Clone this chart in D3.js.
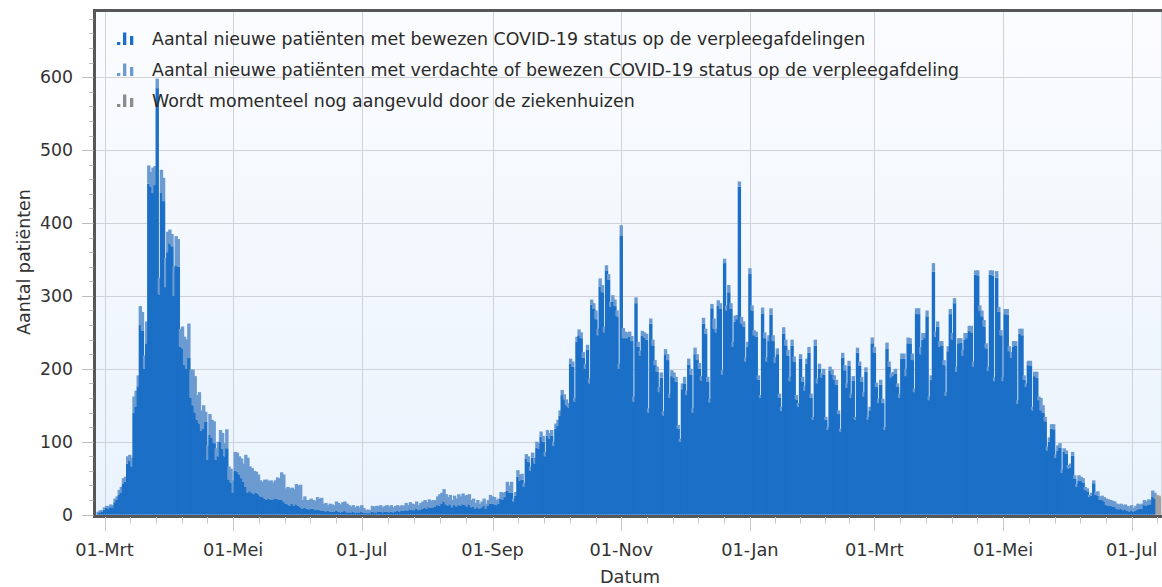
<!DOCTYPE html>
<html><head><meta charset="utf-8">
<script src="https://cdn.jsdelivr.net/npm/d3@7"></script>
<style>
body{margin:0;background:#fff;}
svg{display:block;font-family:"DejaVu Sans",sans-serif;}
</style>
</head><body>
<svg id="chart" width="1162" height="587"></svg>
<script>
// ---------- DATA ----------
const startDatum = "2020-02-27"; // first day of the series, one value per day

// Aantal nieuwe patiënten met bewezen COVID-19 status
const bewezen = [
2,3,4,7,9,8,10,10,17,20,
27,30,42,45,70,74,66,140,148,176,
260,252,200,235,454,450,441,452,585,302,
442,430,312,360,372,368,300,342,340,230,
228,205,200,215,160,150,140,130,125,115,
118,127,75,110,105,98,75,80,100,90,
80,91,48,44,30,60,59,55,50,45,
38,30,32,30,28,30,28,25,24,22,
20,22,20,20,22,22,20,20,18,15,
14,12,15,12,14,12,10,8,9,8,
7,8,8,6,7,6,5,5,4,5,
4,4,4,5,4,3,4,5,3,3,
3,4,2,3,3,4,2,2,2,2,
4,3,3,4,4,3,4,4,3,4,
3,4,5,4,5,5,6,5,7,6,
6,8,6,7,8,9,8,10,9,10,
11,13,12,15,18,14,12,14,10,13,
11,13,12,14,13,11,14,10,11,8,
10,8,9,12,8,12,15,15,14,13,
15,22,20,24,33,30,30,18,26,52,
46,48,38,77,72,60,78,70,92,90,
107,100,80,108,104,108,94,118,122,136,
164,158,150,147,207,203,155,237,246,242,
215,200,226,180,288,282,268,246,313,305,
250,335,322,285,292,286,272,200,383,242,
242,242,244,238,155,290,230,218,245,243,
240,140,262,232,205,196,168,188,136,220,
212,160,190,188,182,118,100,172,180,164,
206,192,140,220,212,200,184,262,248,182,
154,283,255,250,287,282,192,345,280,305,
282,230,265,268,450,262,258,210,230,330,
280,246,244,185,160,276,242,210,238,274,
238,208,220,160,142,248,232,218,183,232,
210,158,148,214,182,170,207,222,160,130,
232,180,200,188,192,130,116,197,192,185,
178,138,114,215,198,174,204,160,184,130,
222,204,182,162,196,130,143,235,222,175,
153,178,153,116,228,203,188,190,193,175,
160,214,214,190,235,234,212,168,276,275,
220,240,242,272,157,185,333,244,258,230,
232,205,163,224,275,240,290,196,235,236,
218,240,242,252,250,203,329,328,280,272,
258,228,197,329,328,183,325,278,246,183,
275,274,224,215,230,232,152,248,246,185,
175,205,204,143,190,188,157,143,140,128,
88,100,118,117,78,88,92,57,86,83,
63,64,81,49,38,47,46,44,34,32,
24,26,43,27,26,20,20,18,13,12,
12,11,11,8,7,8,6,7,5,4,
5,4,5,7,8,8,13,12,13,14,
25,22
];

// Aantal nieuwe patiënten met verdachte of bewezen COVID-19 status (totaal)
const verdachtOfBewezen = [
4,6,6,10,12,12,14,13,22,25,
34,38,50,52,80,82,78,162,170,191,
286,278,218,265,479,470,476,478,598,325,
473,462,352,388,391,385,340,382,378,255,
258,244,240,262,199,199,190,164,168,143,
150,141,95,138,130,128,91,100,116,112,
98,117,66,63,47,86,85,80,77,70,
82,78,66,64,60,59,55,47,45,48,
48,46,47,44,47,51,50,58,55,36,
38,36,37,35,42,40,41,20,25,20,
20,22,20,19,24,22,23,15,16,13,
15,14,13,18,16,14,17,18,15,13,
11,13,10,12,10,13,9,6,7,6,
12,11,12,12,13,10,12,13,11,13,
10,12,13,11,13,12,16,13,17,15,
14,18,13,16,18,20,17,21,19,20,
20,25,28,30,35,28,24,27,20,26,
22,28,25,29,26,27,28,20,22,16,
20,15,18,22,15,20,27,25,24,20,
22,31,30,31,45,40,45,22,31,61,
55,56,43,83,80,66,85,78,100,98,
114,108,86,116,112,116,100,125,130,143,
171,165,158,153,214,210,160,244,254,250,
223,207,233,187,295,290,280,255,324,315,
258,342,330,292,301,295,280,207,397,256,
251,250,251,245,162,298,237,225,252,250,
248,146,269,240,212,203,175,195,142,227,
220,166,198,195,189,123,104,180,189,170,
214,200,146,229,220,208,190,270,255,189,
159,289,269,255,294,290,198,351,287,315,
290,237,273,274,457,271,265,216,237,338,
287,253,251,191,164,284,250,216,246,283,
246,216,228,166,148,257,240,226,189,240,
217,164,153,220,189,176,214,230,166,134,
240,187,207,194,200,134,120,203,199,191,
185,143,118,222,205,180,211,166,190,134,
229,210,189,168,202,134,148,243,230,181,
159,185,159,120,236,210,194,196,200,180,
166,221,221,200,243,242,221,173,283,283,
230,249,249,280,162,191,345,251,265,238,
238,212,168,231,282,249,297,203,242,242,
226,249,249,259,259,210,335,335,287,280,
267,235,203,335,335,189,334,285,253,189,
282,282,231,223,238,238,157,255,255,191,
180,211,211,148,196,196,162,160,150,134,
93,106,124,124,82,95,98,62,91,88,
68,70,86,54,42,54,52,50,38,36,
27,30,47,31,32,25,26,24,22,21,
20,19,18,15,14,15,13,14,12,11,
13,9,12,15,14,15,20,18,21,20,
33,30
];

// Wordt momenteel nog aangevuld door de ziekenhuizen (days directly after the series above)
const aangevuld = [27,26,24];

const xTickDates  = ["2020-03-01","2020-05-01","2020-07-01","2020-09-01","2020-11-01","2021-01-01","2021-03-01","2021-05-01","2021-07-01"];
const xTickLabels = ["01-Mrt","01-Mei","01-Jul","01-Sep","01-Nov","01-Jan","01-Mrt","01-Mei","01-Jul"];
const yTicks = [0,100,200,300,400,500,600];
const legendLabels = [
  "Aantal nieuwe patiënten met bewezen COVID-19 status op de verpleegafdelingen",
  "Aantal nieuwe patiënten met verdachte of bewezen COVID-19 status op de verpleegafdeling",
  "Wordt momenteel nog aangevuld door de ziekenhuizen"
];
const colors = {bewezen:"#1b6fc6", verdacht:"#6b9bd0", aangevuld:"#a3a3a3"};

// ---------- LAYOUT ----------
const W = 1162, H = 587;
const plot = {left:95, top:10.5, right:1164, bottom:515};
const svg = d3.select("#chart");

const day = 864e5;
const t0 = Date.parse(startDatum + "T00:00:00Z");
const dateOf = i => new Date(t0 + i*day);

const x = d3.scaleUtc()
  .domain([new Date("2020-03-01T00:00:00Z"), new Date("2021-07-01T00:00:00Z")])
  .range([104.5, 1131.7]);
const y = d3.scaleLinear().domain([0, 691.5]).range([514.6, plot.top]);

const step = x(dateOf(1)) - x(dateOf(0));
const bw = step * 1.6;

// background gradient
const defs = svg.append("defs");
const grad = defs.append("linearGradient").attr("id","bg").attr("x1",0).attr("y1",0).attr("x2",0).attr("y2",1);
grad.append("stop").attr("offset","0%").attr("stop-color","#fbfcfe");
grad.append("stop").attr("offset","100%").attr("stop-color","#eaf3fd");
defs.append("clipPath").attr("id","clip").append("rect")
  .attr("x",plot.left).attr("y",plot.top).attr("width",plot.right-plot.left).attr("height",plot.bottom-plot.top+2);

svg.append("rect").attr("width",W).attr("height",H).attr("fill","#fff");
svg.append("rect").attr("x",plot.left).attr("y",plot.top)
  .attr("width",plot.right-plot.left).attr("height",plot.bottom-plot.top).attr("fill","url(#bg)");

// grid
const grid = svg.append("g");
yTicks.filter(v=>v>0).forEach(v=>{
  grid.append("line").attr("x1",plot.left).attr("x2",plot.right)
    .attr("y1",Math.round(y(v))+0.5).attr("y2",Math.round(y(v))+0.5)
    .attr("stroke","#cfd2d8").attr("stroke-width",1);
});
const majorDates = xTickDates.map(s=>new Date(s+"T00:00:00Z"));
majorDates.forEach(d=>{
  const xx = Math.round(x(d))+0.5;
  grid.append("line").attr("x1",xx).attr("x2",xx).attr("y1",plot.top).attr("y2",plot.bottom)
    .attr("stroke","#cfd2d8").attr("stroke-width",1);
});

// bars
const barsG = svg.append("g").attr("clip-path","url(#clip)");
const rows = bewezen.map((b,i)=>({date:dateOf(i), b:b, t:verdachtOfBewezen[i]}));
const barG = barsG.selectAll("g.day").data(rows).join("g").attr("class","day");
barG.append("rect")
  .attr("x",d=>x(d.date)-bw/2).attr("width",bw)
  .attr("y",d=>y(d.b)).attr("height",d=>y(0)-y(d.b))
  .attr("fill",colors.bewezen);
barG.append("rect")
  .attr("x",d=>x(d.date)-bw/2).attr("width",bw)
  .attr("y",d=>y(d.t)).attr("height",d=>y(d.b)-y(d.t))
  .attr("fill",colors.verdacht);
barsG.selectAll("rect.gray").data(aangevuld.map((v,i)=>({date:dateOf(bewezen.length+i), v:v})))
  .join("rect").attr("class","gray")
  .attr("x",d=>x(d.date)-bw/2).attr("width",bw)
  .attr("y",d=>y(d.v)).attr("height",d=>y(0)-y(d.v))
  .attr("fill",colors.aangevuld);

// faint line at right edge
svg.append("line").attr("x1",1161.5).attr("x2",1161.5).attr("y1",plot.top).attr("y2",plot.bottom)
  .attr("stroke","#d6d9de").attr("stroke-width",1);

// plot border
svg.append("rect").attr("x",plot.left-0.5).attr("y",plot.top).attr("width",plot.right-plot.left+10)
  .attr("height",plot.bottom-plot.top+1.5).attr("fill","none").attr("stroke","#575757").attr("stroke-width",3);

// y axis ticks + labels
const yAx = svg.append("g");
for(let v=0; v<=680; v+=20){
  const yy = Math.round(y(v))+0.5;
  const major = v%100===0;
  if(major && v>600) continue;
  yAx.append("line").attr("x1",major?82:89).attr("x2",93.5).attr("y1",yy).attr("y2",yy)
    .attr("stroke","#bdbdbd").attr("stroke-width",1);
}
yTicks.forEach(v=>{
  yAx.append("text").attr("x",73).attr("y",y(v)).attr("dy","0.36em")
    .attr("text-anchor","end").attr("font-size",17.3).attr("fill","#333").text(v);
});
svg.append("text").attr("transform","translate(30,262) rotate(-90)")
  .attr("text-anchor","middle").attr("font-size",17.5).attr("fill","#333").text("Aantal patiënten");

// x axis ticks + labels
const xAx = svg.append("g");
const minorStep = 61/5*day;
const minors = [];
for(let k=0;k<majorDates.length;k++){
  const a = +majorDates[k];
  const b = k<majorDates.length-1 ? +majorDates[k+1] : a + 5*minorStep;
  for(let j=1;j<5;j++) minors.push(a + (b-a)*j/5);
}
minors.forEach(t=>{
  const xx = Math.round(x(new Date(t)))+0.5;
  if(xx<plot.left||xx>W) return;
  xAx.append("line").attr("x1",xx).attr("x2",xx).attr("y1",517).attr("y2",523.5)
    .attr("stroke","#c6c6c6").attr("stroke-width",1);
});
majorDates.forEach((d,i)=>{
  const xx = Math.round(x(d))+0.5;
  xAx.append("line").attr("x1",xx).attr("x2",xx).attr("y1",517).attr("y2",531)
    .attr("stroke","#c6c6c6").attr("stroke-width",1);
  xAx.append("text").attr("x",x(d)).attr("y",556).attr("text-anchor","middle")
    .attr("font-size",17.8).attr("fill","#333").text(xTickLabels[i]);
});
svg.append("text").attr("x",630).attr("y",583).attr("text-anchor","middle")
  .attr("font-size",17.8).attr("fill","#333").text("Datum");

// legend
const legColors = [colors.bewezen, colors.verdacht, "#8c8c8c"];
const lg = svg.append("g");
legendLabels.forEach((lab,i)=>{
  const base = 45 + i*31;
  const c = legColors[i];
  lg.append("rect").attr("x",117).attr("y",base-3).attr("width",3.3).attr("height",3).attr("fill",c);
  lg.append("rect").attr("x",123).attr("y",base-12.5).attr("width",3.3).attr("height",12.5).attr("fill",c);
  lg.append("rect").attr("x",130).attr("y",base-9).attr("width",3.3).attr("height",9).attr("fill",c);
  lg.append("text").attr("x",152).attr("y",base).attr("font-size",17.4).attr("fill","#2a2a2a").text(lab);
});
</script>
</body></html>
